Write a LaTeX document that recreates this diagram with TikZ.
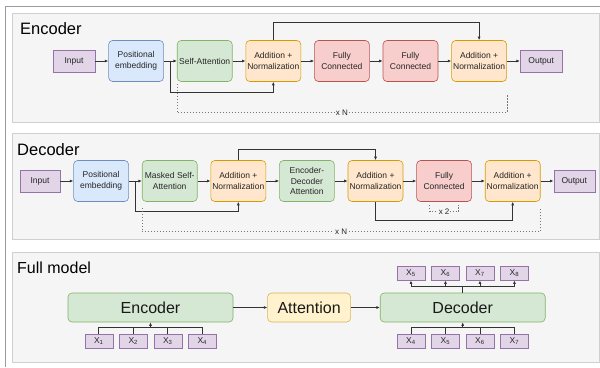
\documentclass[tikz,border=0pt]{standalone}
\usepackage{fontspec}
\setmainfont{Liberation Sans}
\usepackage{tikz}
\usepackage{xcolor}
\usetikzlibrary{positioning,arrows.meta,calc}
\definecolor{tfpurple}{HTML}{E1D5E7}
\definecolor{tfpurpleline}{HTML}{9673A6}
\definecolor{tfblue}{HTML}{DAE8FC}
\definecolor{tfblueline}{HTML}{6C8EBF}
\definecolor{tfgreen}{HTML}{D5E8D4}
\definecolor{tfgreenline}{HTML}{82B366}
\definecolor{tforange}{HTML}{FFE6CC}
\definecolor{tforangeline}{HTML}{D79B00}
\definecolor{tfred}{HTML}{F8CECC}
\definecolor{tfredline}{HTML}{B85450}
\definecolor{tfyellow}{HTML}{FFF2CC}
\definecolor{tfyellowline}{HTML}{D6B656}
\definecolor{tfpanel}{HTML}{F5F5F5}
\definecolor{tfpanelline}{HTML}{CFCFCF}
\definecolor{tfframe}{HTML}{9A9AA2}
\definecolor{tfline}{HTML}{333333}
\definecolor{tfdash}{HTML}{777777}
\tikzset{
  panel/.style={draw=tfpanelline, fill=tfpanel, line width=0.9pt},
  paneltitle/.style={anchor=base west, inner sep=0pt, font=\fontsize{16.5}{18}\selectfont},
  box/.style={draw, rounded corners=4pt, align=center, minimum width=55pt, minimum height=41pt, inner sep=1pt, line width=0.6pt, text=black!85, font=\fontsize{8.5}{10.5}\selectfont},
  posbox/.style={box, draw=tfblueline, fill=tfblue},
  attbox/.style={box, draw=tfgreenline, fill=tfgreen},
  normbox/.style={box, draw=tforangeline, fill=tforange},
  fcbox/.style={box, draw=tfredline, fill=tfred},
  iobox/.style={draw=tfpurpleline, fill=tfpurple, minimum width=42pt, minimum height=22pt, inner sep=1pt, line width=0.6pt, text=black!85, font=\fontsize{8.5}{10.5}\selectfont},
  bigbox/.style={draw, rounded corners=4pt, minimum height=29pt, inner sep=1pt, line width=0.6pt, text=black!90, font=\fontsize{16}{18}\selectfont},
  tokbox/.style={draw=tfpurpleline, fill=tfpurple, minimum width=28pt, minimum height=14pt, inner sep=0pt, line width=0.5pt, text=black!85, font=\fontsize{8.5}{9}\selectfont},
  arrow/.style={-{Latex[length=3.5pt,width=3pt]}, line width=0.7pt, tfline},
  link/.style={line width=0.7pt, tfline},
  stackline/.style={dash pattern=on 1.5pt off 1.5pt, line width=0.7pt, tfdash},
  replabel/.style={fill=tfpanel, inner sep=1pt, text=black!85, font=\fontsize{8}{9}\selectfont}
}

\begin{document}
\begin{tikzpicture}[x=1pt, y=-1pt, node distance=13pt]
    \useasboundingbox (0,0) rectangle (600,367);
    \draw[tfframe, line width=1pt] (5,367) -- (5,6) -- (600,6);

    % panels
    \draw[panel] (12,13) rectangle (599,122);
    \draw[panel] (12,133) rectangle (599,239);
    \draw[panel] (12,252) rectangle (599,362);
    \node[paneltitle] (enctitle) at (20,34) {Encoder};
    \node[paneltitle] (dectitle) at (17,155) {Decoder};
    \node[paneltitle, font=\fontsize{16}{18}\selectfont] (fulltitle) at (17,273) {Full model};

    % encoder
    \node[iobox] (ein) at (74,61) {Input};
    \node[posbox, right=of ein] (epos) {Positional\\embedding};
    \node[attbox, right=of epos] (eself) {Self-Attention};
    \node[normbox, right=of eself] (enorm1) {Addition +\\Normalization};
    \node[fcbox, right=of enorm1] (efc1) {Fully\\Connected};
    \node[fcbox, right=of efc1] (efc2) {Fully\\Connected};
    \node[normbox, right=of efc2] (enorm2) {Addition +\\Normalization};
    \node[iobox, right=of enorm2] (eout) {Output};
    \foreach \a/\b in {ein/epos, epos/eself, eself/enorm1, enorm1/efc1, efc1/efc2, efc2/enorm2, enorm2/eout}
      \draw[arrow] (\a) -- (\b);
    \coordinate (eskip) at ($(epos.east)!0.5!(eself.west)$);
    \draw[arrow] (eskip) -- ++(0,31) -| (enorm1.south);
    \draw[arrow] (enorm1.north) -- ++(0,-18) -| (enorm2.north);
    \draw[stackline] ($(eself.south west)+(0,2)$) -- ++(0,29) -| ($(enorm2.south east)+(0,12)$) node[replabel, pos=0.25] {x N};

    % decoder
    \node[iobox, minimum width=40pt] (din) at (40,181) {Input};
    \node[posbox, right=of din] (dpos) {Positional\\embedding};
    \node[attbox, right=of dpos] (dmask) {Masked Self-\\Attention};
    \node[normbox, right=of dmask] (dnorm1) {Addition +\\Normalization};
    \node[attbox, right=of dnorm1] (dcross) {Encoder-\\Decoder\\Attention};
    \node[normbox, right=of dcross] (dnorm2) {Addition +\\Normalization};
    \node[fcbox, right=of dnorm2] (dfc) {Fully\\Connected};
    \node[normbox, right=of dfc] (dnorm3) {Addition +\\Normalization};
    \node[iobox, minimum width=41pt, right=of dnorm3] (dout) {Output};
    \foreach \a/\b in {din/dpos, dpos/dmask, dmask/dnorm1, dnorm1/dcross, dcross/dnorm2, dnorm2/dfc, dfc/dnorm3, dnorm3/dout}
      \draw[arrow] (\a) -- (\b);
    \coordinate (dskip) at ($(dpos.east)!0.5!(dmask.west)$);
    \draw[arrow] (dskip) -- ++(0,30) -| (dnorm1.south);
    \draw[arrow] (dnorm1.north) -- ++(0,-11) -| (dnorm2.north);
    \draw[arrow] (dnorm2.south) -- ++(0,19) -| (dnorm3.south);
    \draw[stackline] ($(dfc.south)+(-14.5,3)$) -- ++(0,7) -| ($(dfc.south)+(14.5,3)$) node[replabel, pos=0.25] {x 2};
    \draw[stackline] ($(dmask.south west)+(0,6)$) -- ++(0,24) -| ($(dnorm3.south east)+(0,6)$) node[replabel, pos=0.25] {x N};

    % full model
    \node[bigbox, draw=tfgreenline, fill=tfgreen, minimum width=165pt] (fenc) at (150.5,307.5) {Encoder};
    \node[bigbox, draw=tfyellowline, fill=tfyellow, minimum width=83pt, right=34pt of fenc] (fatt) {Attention};
    \node[bigbox, draw=tfgreenline, fill=tfgreen, minimum width=165pt, right=29pt of fatt] (fdec) {Decoder};
    \draw[arrow] (fenc) -- (fatt);
    \draw[arrow] (fatt) -- (fdec);

    \foreach \i in {1,...,4}
      \node[tokbox] (fx\i) at ($(fenc.south)+({34.5*(\i-2.5)},19)$) {X\textsubscript{\i}};
    \foreach \i [evaluate=\i as \n using int(\i+3)] in {1,...,4}
      \node[tokbox] (fin\i) at ($(fdec.south)+({34.5*(\i-2.5)},19)$) {X\textsubscript{\n}};
    \foreach \i [evaluate=\i as \n using int(\i+4)] in {1,...,4}
      \node[tokbox] (fout\i) at ($(fdec.north)+({34.5*(\i-2.5)},-19.5)$) {X\textsubscript{\n}};

    \coordinate (ebus) at ($(fenc.south)+(0,5)$);
    \draw[link] (fx1.north) |- (ebus) -| (fx4.north);
    \foreach \i in {2,3}
      \draw[link] (fx\i.north) -- (fx\i.north |- ebus);
    \draw[arrow] (ebus) -- (fenc.south);

    \coordinate (dbus) at ($(fdec.south)+(0,5)$);
    \draw[link] (fin1.north) |- (dbus) -| (fin4.north);
    \foreach \i in {2,3}
      \draw[link] (fin\i.north) -- (fin\i.north |- dbus);
    \draw[arrow] (dbus) -- (fdec.south);

    \coordinate (obus) at ($(fdec.north)+(0,-6)$);
    \draw[link] (fdec.north) -- (obus);
    \foreach \i in {1,...,4}
      \draw[arrow] (obus) -| (fout\i.south);
  \end{tikzpicture}
\end{document}
